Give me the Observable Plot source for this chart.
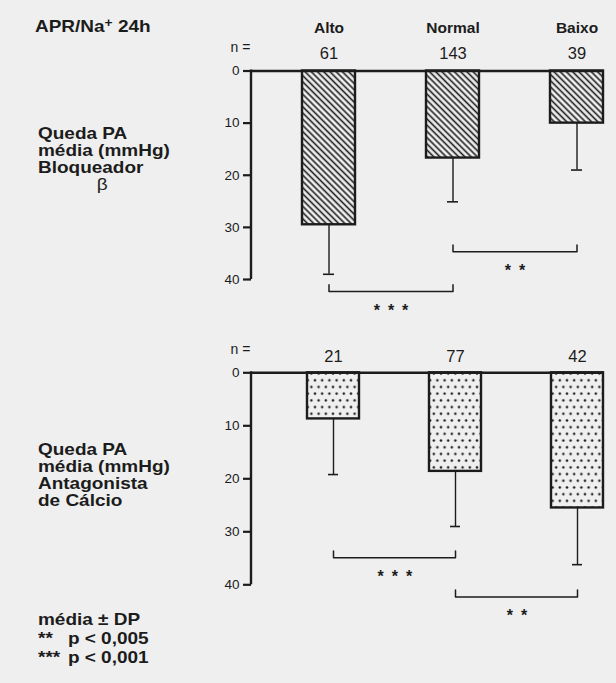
<!DOCTYPE html>
<html><head><meta charset="utf-8">
<script src="https://cdn.jsdelivr.net/npm/d3@7"></script>
<script src="https://cdn.jsdelivr.net/npm/@observablehq/plot@0.6"></script>
<style>
html,body{margin:0;padding:0;background:#efefef;}
#page{position:relative;width:616px;height:683px;background:#efefef;font-family:"Liberation Sans",Arial,sans-serif;color:#1c1c1c;overflow:hidden;}
.lbl{position:absolute;left:38px;font-weight:bold;font-size:16.5px;line-height:17px;white-space:nowrap;transform:scaleX(1.15);transform-origin:0 0;}
.plot{position:absolute;left:0;}
.plot svg{background:transparent !important;overflow:visible;}
sup{font-size:12px;position:relative;top:-3px;vertical-align:top;}
.st{display:inline-block;width:26px;}
.beta{font-weight:normal;padding-left:51px;}
</style></head><body><div id="page"></div>
<script>
// ---- data ----
const categories = ["Alto", "Normal", "Baixo"];
const nBeta = [61, 143, 39];
const meanBeta = [29.5, 16.7, 10.0];
const sdBeta = [9.5, 8.4, 9.0];
const nCa = [21, 77, 42];
const meanCa = [8.7, 18.6, 25.5];
const sdCa = [10.5, 10.4, 10.7];
const yTicks = [0, 10, 20, 30, 40];
const bracketsBeta = [
  {from: "Alto", to: "Normal", level: 42.3, stars: "*\u2002*\u2002*"},
  {from: "Normal", to: "Baixo", level: 34.7, stars: "*\u2002*"}
];
const bracketsCa = [
  {from: "Alto", to: "Normal", level: 34.9, stars: "*\u2002*\u2002*"},
  {from: "Normal", to: "Baixo", level: 42.3, stars: "*\u2002*"}
];
const labelBeta = ["Queda PA", "média (mmHg)", "Bloqueador", "<span class='beta'>β</span>"];
const labelCa = ["Queda PA", "média (mmHg)", "Antagonista", "de Cálcio"];
const legendLines = ["média ± DP", "<span class='st'>**</span>p &lt; 0,005", "<span class='st'>***</span>p &lt; 0,001"];

const INK = "#1c1c1c";
const BG = "#efefef";
const FONT = "Liberation Sans, Arial, sans-serif";
const page = document.getElementById("page");
const SVGNS = "http://www.w3.org/2000/svg";

function defsMark() {
  return () => {
    const g = document.createElementNS(SVGNS, "g");
    g.innerHTML = `<defs>
      <pattern id="hatchP" patternUnits="userSpaceOnUse" width="4.4" height="4.4" patternTransform="rotate(45)">
        <rect width="4.4" height="4.4" fill="${BG}"/>
        <line x1="0" y1="2.2" x2="4.4" y2="2.2" stroke="${INK}" stroke-width="1.6"/>
      </pattern>
      <pattern id="dotsP" patternUnits="userSpaceOnUse" width="7.2" height="13.4">
        <rect width="7.2" height="13.4" fill="${BG}"/>
        <circle cx="1.8" cy="3.3" r="1.25" fill="${INK}"/>
        <circle cx="5.4" cy="10" r="1.25" fill="${INK}"/>
      </pattern></defs>`;
    return g;
  };
}

function axisLineMark() {
  return (index, scales, values, dimensions) => {
    const l = document.createElementNS(SVGNS, "line");
    const x = dimensions.marginLeft;
    l.setAttribute("x1", x); l.setAttribute("x2", x);
    l.setAttribute("y1", scales.y(0) - 1); l.setAttribute("y2", scales.y(40));
    l.setAttribute("stroke", INK); l.setAttribute("stroke-width", 2.4);
    return l;
  };
}

function panel({n, mean, sd, brackets, fill, svgTop, y0px, y40px, xRange, cats, nLabelY, catY}) {
  const data = categories.map((c, i) => ({cat: c, n: n[i], mean: mean[i], sd: sd[i], end: mean[i] + sd[i]}));
  const height = 320;
  const marginTop = y0px - svgTop;
  const marginBottom = height - (y40px - svgTop);
  const padIn = 0.573;
  const step = (xRange[1] - xRange[0]) / (categories.length - padIn);
  const bracketPts = [];
  brackets.forEach((b, k) => {
    bracketPts.push({k, x: b.from, y: b.level - 1.3});
    bracketPts.push({k, x: b.from, y: b.level});
    bracketPts.push({k, x: b.to, y: b.level});
    bracketPts.push({k, x: b.to, y: b.level - 1.3});
  });
  const marks = [
    defsMark(),
    Plot.barY(data, {x: "cat", y1: 0, y2: "mean", fill, stroke: INK, strokeWidth: 2.4}),
    Plot.ruleX(data, {x: "cat", y1: "mean", y2: "end", stroke: INK, strokeWidth: 1.4}),
    Plot.tickY(data, {x: "cat", y: "end", insetLeft: 21, insetRight: 21, stroke: INK, strokeWidth: 1.6}),
    Plot.ruleY([0], {stroke: INK, strokeWidth: 2.4}),
    axisLineMark(),
    Plot.axisY({ticks: yTicks, tickSize: 8, tickPadding: 4, fontSize: 13.5, stroke: INK, strokeWidth: 2.2, label: null, color: INK}),
    Plot.line(bracketPts, {x: "x", y: "y", z: "k", stroke: INK, strokeWidth: 1.5}),
    Plot.text(brackets, {x: "from", y: d => d.level + 2.9, text: "stars", dx: step / 2, dy: 4, fontSize: 16, fontWeight: "bold", fill: INK}),
    Plot.text(data, {x: "cat", y: () => nLabelY, text: d => String(d.n), fontSize: 16.5, fill: INK}),
    Plot.text([{t: "n ="}], {y: () => nLabelY - 1.3, text: "t", frameAnchor: "left", dx: -21, fontSize: 14, fill: INK})
  ];
  if (cats) marks.push(Plot.text(data, {x: "cat", y: () => catY, text: "cat", fontSize: 15.5, fontWeight: "bold", fill: INK}));
  const chart = Plot.plot({
    width: 616, height,
    marginLeft: 251, marginRight: 13, marginTop, marginBottom,
    style: {background: "transparent", fontFamily: FONT, color: INK},
    x: {type: "band", domain: categories, range: xRange, paddingInner: padIn, paddingOuter: 0, axis: null},
    y: {domain: [0, 40], reverse: true, axis: null},
    marks
  });
  const wrap = document.createElement("div");
  wrap.className = "plot";
  wrap.style.top = svgTop + "px";
  wrap.appendChild(chart);
  page.appendChild(wrap);
}

panel({n: nBeta, mean: meanBeta, sd: sdBeta, brackets: bracketsBeta, fill: "url(#hatchP)",
  svgTop: 0, y0px: 70.5, y40px: 279, xRange: [301.5, 602.5], cats: true, nLabelY: -3.3, catY: -8.3});
panel({n: nCa, mean: meanCa, sd: sdCa, brackets: bracketsCa, fill: "url(#dotsP)",
  svgTop: 330, y0px: 372.3, y40px: 584.3, xRange: [306, 604], cats: false, nLabelY: -3.0, catY: 0});

function addLabel(lines, top, lh) {
  const d = document.createElement("div");
  d.className = "lbl";
  d.style.top = top + "px";
  if (lh) d.style.lineHeight = lh + "px";
  d.innerHTML = lines.join("<br>");
  page.appendChild(d);
  return d;
}
const t = addLabel(["APR/Na<sup>+</sup> 24h"], 18);
t.style.left = "35px";
addLabel(labelBeta, 124.5);
addLabel(labelCa, 440.5);
addLabel(legendLines, 610, 19);
</script></body></html>
